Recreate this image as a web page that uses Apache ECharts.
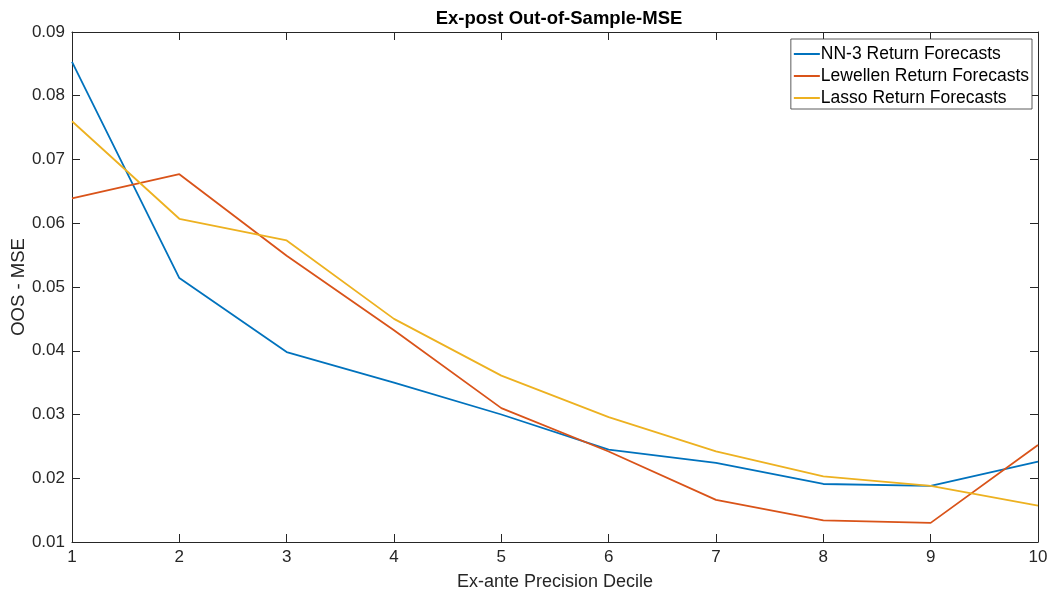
<!DOCTYPE html>
<html>
<head>
<meta charset="utf-8">
<script src="https://cdn.jsdelivr.net/npm/echarts@6/dist/echarts.min.js"></script>
<style>
  html, body { margin: 0; padding: 0; background: #fff; }
  #chart { width: 1052px; height: 596px; }
</style>
</head>
<body>
<div id="chart"></div>
<script>
const deciles = ['1', '2', '3', '4', '5', '6', '7', '8', '9', '10'];
const nn3 = [0.0853, 0.0514, 0.0398, 0.0350, 0.0300, 0.0245, 0.0224, 0.0191, 0.0188, 0.0226];
const lewellen = [0.0639, 0.0677, 0.0549, 0.0432, 0.0310, 0.0242, 0.0166, 0.0134, 0.0130, 0.0252];
const lasso = [0.0760, 0.0607, 0.0573, 0.0450, 0.0361, 0.0296, 0.0242, 0.0203, 0.0188, 0.0157];
const yTicks = { min: 0.01, max: 0.09, step: 0.01 };

const axisColor = '#262626';
const font = 'Liberation Sans, Arial, Helvetica, sans-serif';

const chart = echarts.init(document.getElementById('chart'));

function line(name, data, color) {
  return {
    name, type: 'line', data: data.map((v, i) => [i + 1, v]),
    showSymbol: false, symbol: 'none',
    lineStyle: { color, width: 1.8 }, itemStyle: { color },
    animation: false
  };
}

chart.setOption({
  animation: false,
  textStyle: { fontFamily: font },
  title: {
    text: 'Ex-post Out-of-Sample-MSE', left: 554, top: 4, textAlign: 'center',
    textStyle: { fontSize: 18.5, fontWeight: 'bold', color: '#000', fontFamily: font }
  },
  grid: { left: 72, right: 14, top: 32, bottom: 54, show: false, outerBoundsMode: 'none', containLabel: false },
  legend: {
    orient: 'vertical', right: 20, top: 39,
    backgroundColor: '#fff', borderColor: '#333', borderWidth: 0.8,
    padding: [6, 3, 2, 3], itemGap: 4, itemWidth: 26, itemHeight: 2,
    icon: 'rect',
    textStyle: { fontSize: 17.5, color: '#000', fontFamily: font, padding: [0, 0, 0, -4] },
    data: ['NN-3 Return Forecasts', 'Lewellen Return Forecasts', 'Lasso Return Forecasts']
  },
  xAxis: [{
    type: 'value', min: 1, max: 10, interval: 1,
    name: 'Ex-ante Precision Decile', nameLocation: 'middle', nameGap: 31,
    nameMoveOverlap: false,
    nameTextStyle: { fontSize: 18, color: axisColor },
    axisLine: { lineStyle: { color: axisColor, width: 1 } },
    axisTick: { inside: true, length: 8, lineStyle: { color: axisColor } },
    axisLabel: { fontSize: 17, color: axisColor, margin: 7 },
    splitLine: { show: false }
  }, {
    type: 'value', min: 1, max: 10, interval: 1, position: 'top',
    axisLine: { show: true, lineStyle: { color: axisColor, width: 1 } },
    axisTick: { inside: true, length: 8, lineStyle: { color: axisColor } },
    axisLabel: { show: false }, splitLine: { show: false }
  }],
  yAxis: [{
    type: 'value', min: yTicks.min, max: yTicks.max, interval: yTicks.step,
    name: 'OOS - MSE', nameLocation: 'middle', nameGap: 44,
    nameMoveOverlap: false,
    nameTextStyle: { fontSize: 18.5, color: axisColor },
    axisLine: { show: true, lineStyle: { color: axisColor, width: 1 } },
    axisTick: { inside: true, length: 8, lineStyle: { color: axisColor } },
    axisLabel: { fontSize: 17, color: axisColor, margin: 7, formatter: (v) => v.toFixed(2) },
    splitLine: { show: false }
  }, {
    type: 'value', min: yTicks.min, max: yTicks.max, interval: yTicks.step, position: 'right',
    axisLine: { show: true, lineStyle: { color: axisColor, width: 1 } },
    axisTick: { inside: true, length: 8, lineStyle: { color: axisColor } },
    axisLabel: { show: false }, splitLine: { show: false }
  }],
  series: [
    line('NN-3 Return Forecasts', nn3, '#0072BD'),
    line('Lewellen Return Forecasts', lewellen, '#D95319'),
    line('Lasso Return Forecasts', lasso, '#EDB120')
  ]
});
</script>
</body>
</html>
